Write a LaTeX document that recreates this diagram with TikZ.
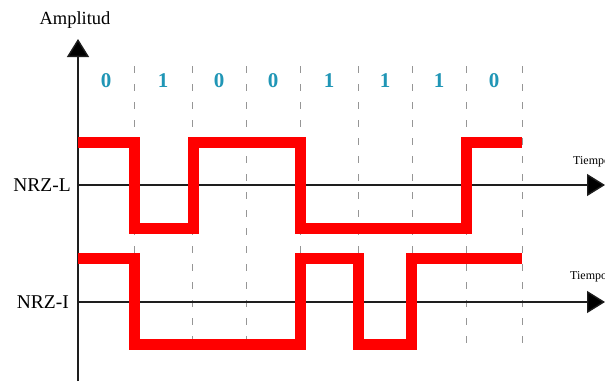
\documentclass[tikz,border=0pt]{standalone}
\usepackage{fontspec}
\setmainfont{Liberation Serif}
\usetikzlibrary{arrows.meta}
\definecolor{bitcol}{RGB}{32,150,182}
\definecolor{axiscol}{RGB}{30,30,30}
\definecolor{gridcol}{RGB}{150,150,150}
\tikzset{
  axisline/.style={draw=axiscol, line width=1.4pt, -{Triangle[length=18pt,width=22pt,fill=black]}},
  slotline/.style={draw=gridcol, line width=0.9pt, dash pattern=on 7pt off 11pt},
  signal/.style={draw=red, line width=11pt, line join=miter, line cap=butt},
  bitlabel/.style={text=bitcol, font=\fontsize{21}{23}\selectfont\bfseries, inner sep=0pt},
  rowlabel/.style={font=\fontsize{19.5}{21}\selectfont, inner sep=0pt, anchor=east},
  timelabel/.style={font=\fontsize{12}{13}\selectfont, inner sep=0pt, anchor=west}
}
\begin{document}
\begin{tikzpicture}[x=1pt,y=-1pt]
  \useasboundingbox (0,0) rectangle (605,381);
  \fill[white] (0,0) rectangle (605,381);

  % bit slot boundaries
  \foreach \bx [count=\i] in {134,192,246,300,358,412,466,522}
    \draw[slotline] (\bx,66) -- (\bx,352);

  % bit values
  \foreach \cx/\bv [count=\i] in {106/0,163/1,219/0,273/0,329/1,385/1,439/1,494/0}
    \node[bitlabel] (bit\i) at (\cx,81) {\bv};

  % axes
  \coordinate (origin) at (78,381);
  \coordinate (ytip) at (78,39);
  \draw[axisline] (origin) -- (ytip);
  \node[font=\fontsize{18.5}{20}\selectfont, inner sep=0pt] (amp) at (75,20) {Amplitud};

  \coordinate (lstart) at (78,185);
  \coordinate (ltip) at (605,185);
  \draw[axisline] (lstart) -- (ltip);
  \coordinate (istart) at (78,302);
  \coordinate (itip) at (605,302);
  \draw[axisline] (istart) -- (itip);

  \node[rowlabel] (nrzl) at (71,185) {NRZ-L};
  \node[rowlabel] (nrzi) at (69,302) {NRZ-I};
  \node[timelabel] (tl) at (573,162) {Tiempo};
  \node[timelabel] (ti) at (570,277) {Tiempo};

  % NRZ-L waveform
  \draw[signal] (78,142) -- (134,142) -- (134,228) -- (193,228) -- (193,142)
    -- (300,142) -- (300,228) -- (466,228) -- (466,142) -- (522,142);

  % NRZ-I waveform
  \draw[signal] (78,258) -- (134,258) -- (134,344) -- (300,344) -- (300,258)
    -- (358,258) -- (358,344) -- (411,344) -- (411,258) -- (522,258);
\end{tikzpicture}
\end{document}
